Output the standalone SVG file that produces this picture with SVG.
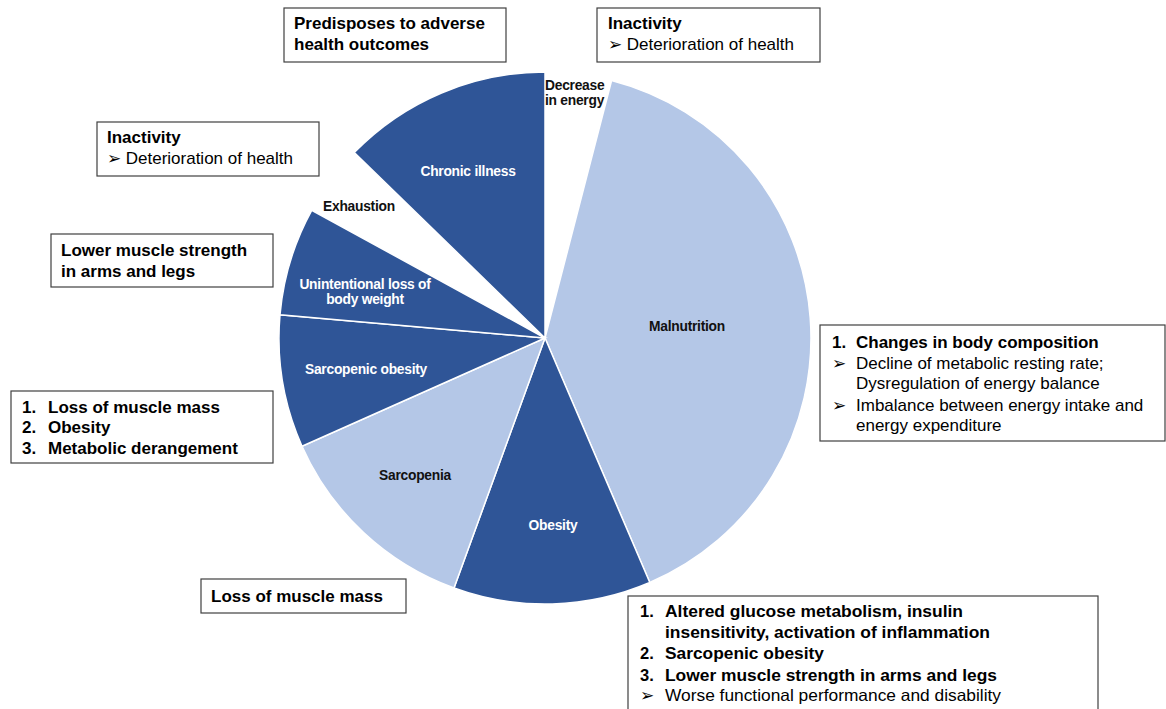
<svg xmlns="http://www.w3.org/2000/svg" width="1166" height="709" viewBox="0 0 1166 709">
<style>
.dark{fill:#2F5597;stroke:#fff;stroke-width:1.5}
.light{fill:#B4C7E7;stroke:#fff;stroke-width:1.5}
.box{fill:#fff;stroke:#404040;stroke-width:1.2}
.t{font-family:"Liberation Sans",Arial,sans-serif;font-size:17px;fill:#000}
.b{font-weight:bold}
.pl{font-family:"Liberation Sans",Arial,sans-serif;font-size:13.8px;font-weight:bold;letter-spacing:-0.25px}
.w{fill:#fff}
.k{fill:#111}
.n{font-family:"Liberation Sans",Arial,sans-serif;font-size:16.5px;fill:#000}
</style>
<rect width="1166" height="709" fill="#fff"/>
<g id="pie">
<g id="slice-malnutrition"><path class="light" d="M545,338 L611.6,80.5 A266,266 0 0 1 649.8,582.5 Z"/><text class="pl k" x="687" y="331" text-anchor="middle">Malnutrition</text></g>
<g id="slice-obesity"><path class="dark" d="M545,338 L649.8,582.5 A266,266 0 0 1 454,588 Z"/><text class="pl w" x="553" y="530" text-anchor="middle">Obesity</text></g>
<g id="slice-sarcopenia"><path class="light" d="M545,338 L454,588 A266,266 0 0 1 302,446.2 Z"/><text class="pl k" x="415" y="480" text-anchor="middle">Sarcopenia</text></g>
<g id="slice-sarcopenic-obesity"><path class="dark" d="M545,338 L302,446.2 A266,266 0 0 1 280,314.8 Z"/><text class="pl w" x="366" y="374" text-anchor="middle">Sarcopenic obesity</text></g>
<g id="slice-weight-loss"><path class="dark" d="M545,338 L280,314.8 A266,266 0 0 1 311.7,210.3 Z"/><text class="pl w" x="365" y="289" text-anchor="middle">Unintentional loss of</text><text class="pl w" x="365" y="304" text-anchor="middle">body weight</text></g>
<g id="slice-exhaustion"><text class="pl k" x="323" y="211">Exhaustion</text></g>
<g id="slice-chronic"><path class="dark" d="M545,338 L354.3,152.5 A266,266 0 0 1 545,72 Z"/><text class="pl w" x="468" y="176" text-anchor="middle">Chronic illness</text></g>
<g id="slice-energy"><text class="pl k" x="545" y="90">Decrease</text><text class="pl k" x="545" y="105">in energy</text></g>
</g>
<g id="connectors"></g>
<g id="box-predisposes"><rect class="box" x="284" y="8" width="222" height="54"/><text class="t b" x="294" y="29">Predisposes to adverse</text><text class="t b" x="294" y="50">health outcomes</text></g>
<g id="box-inactivity-right"><rect class="box" x="597" y="8" width="223" height="54"/><text class="t b" x="608" y="29">Inactivity</text><text class="t" x="608" y="50">➢ Deterioration of health</text></g>
<g id="box-inactivity-left"><rect class="box" x="97" y="122" width="222" height="54"/><text class="t b" x="107" y="143">Inactivity</text><text class="t" x="107" y="164">➢ Deterioration of health</text></g>
<g id="box-muscle-strength"><rect class="box" x="51" y="234" width="222" height="53"/><text class="t b" x="61" y="256">Lower muscle strength</text><text class="t b" x="61" y="277">in arms and legs</text></g>
<g id="box-loss-list"><rect class="box" x="11" y="391" width="262" height="72"/>
<text class="t b" x="22" y="413">1.</text><text class="t b" x="48" y="413">Loss of muscle mass</text>
<text class="t b" x="22" y="433">2.</text><text class="t b" x="48" y="433">Obesity</text>
<text class="t b" x="22" y="454">3.</text><text class="t b" x="48" y="454">Metabolic derangement</text></g>
<g id="box-loss-mass"><rect class="box" x="201" y="579" width="205" height="34"/><text class="t b" x="211" y="602">Loss of muscle mass</text></g>
<g id="box-body-composition"><rect class="box" x="820" y="325" width="345" height="116"/>
<text class="t b" x="832" y="348">1.</text><text class="t b" x="856" y="348">Changes in body composition</text>
<text class="t" x="832" y="369">➢</text><text class="t" x="856" y="369">Decline of metabolic resting rate;</text>
<text class="t" x="856" y="389">Dysregulation of energy balance</text>
<text class="t" x="832" y="411">➢</text><text class="t" x="856" y="411">Imbalance between energy intake and</text>
<text class="t" x="856" y="431">energy expenditure</text></g>
<g id="box-glucose"><rect class="box" x="628" y="596" width="470" height="120"/>
<text class="n b" x="640" y="617">1.</text><text class="n b" x="665" y="617" textLength="298" lengthAdjust="spacingAndGlyphs">Altered glucose metabolism, insulin</text>
<text class="n b" x="665" y="638" textLength="325" lengthAdjust="spacingAndGlyphs">insensitivity, activation of inflammation</text>
<text class="n b" x="640" y="659">2.</text><text class="n b" x="665" y="659" textLength="159" lengthAdjust="spacingAndGlyphs">Sarcopenic obesity</text>
<text class="n b" x="640" y="681">3.</text><text class="n b" x="665" y="681" textLength="332" lengthAdjust="spacingAndGlyphs">Lower muscle strength in arms and legs</text>
<text class="n" x="640" y="701">➢</text><text class="n" x="665" y="701" textLength="336" lengthAdjust="spacingAndGlyphs">Worse functional performance and disability</text></g>
</svg>
